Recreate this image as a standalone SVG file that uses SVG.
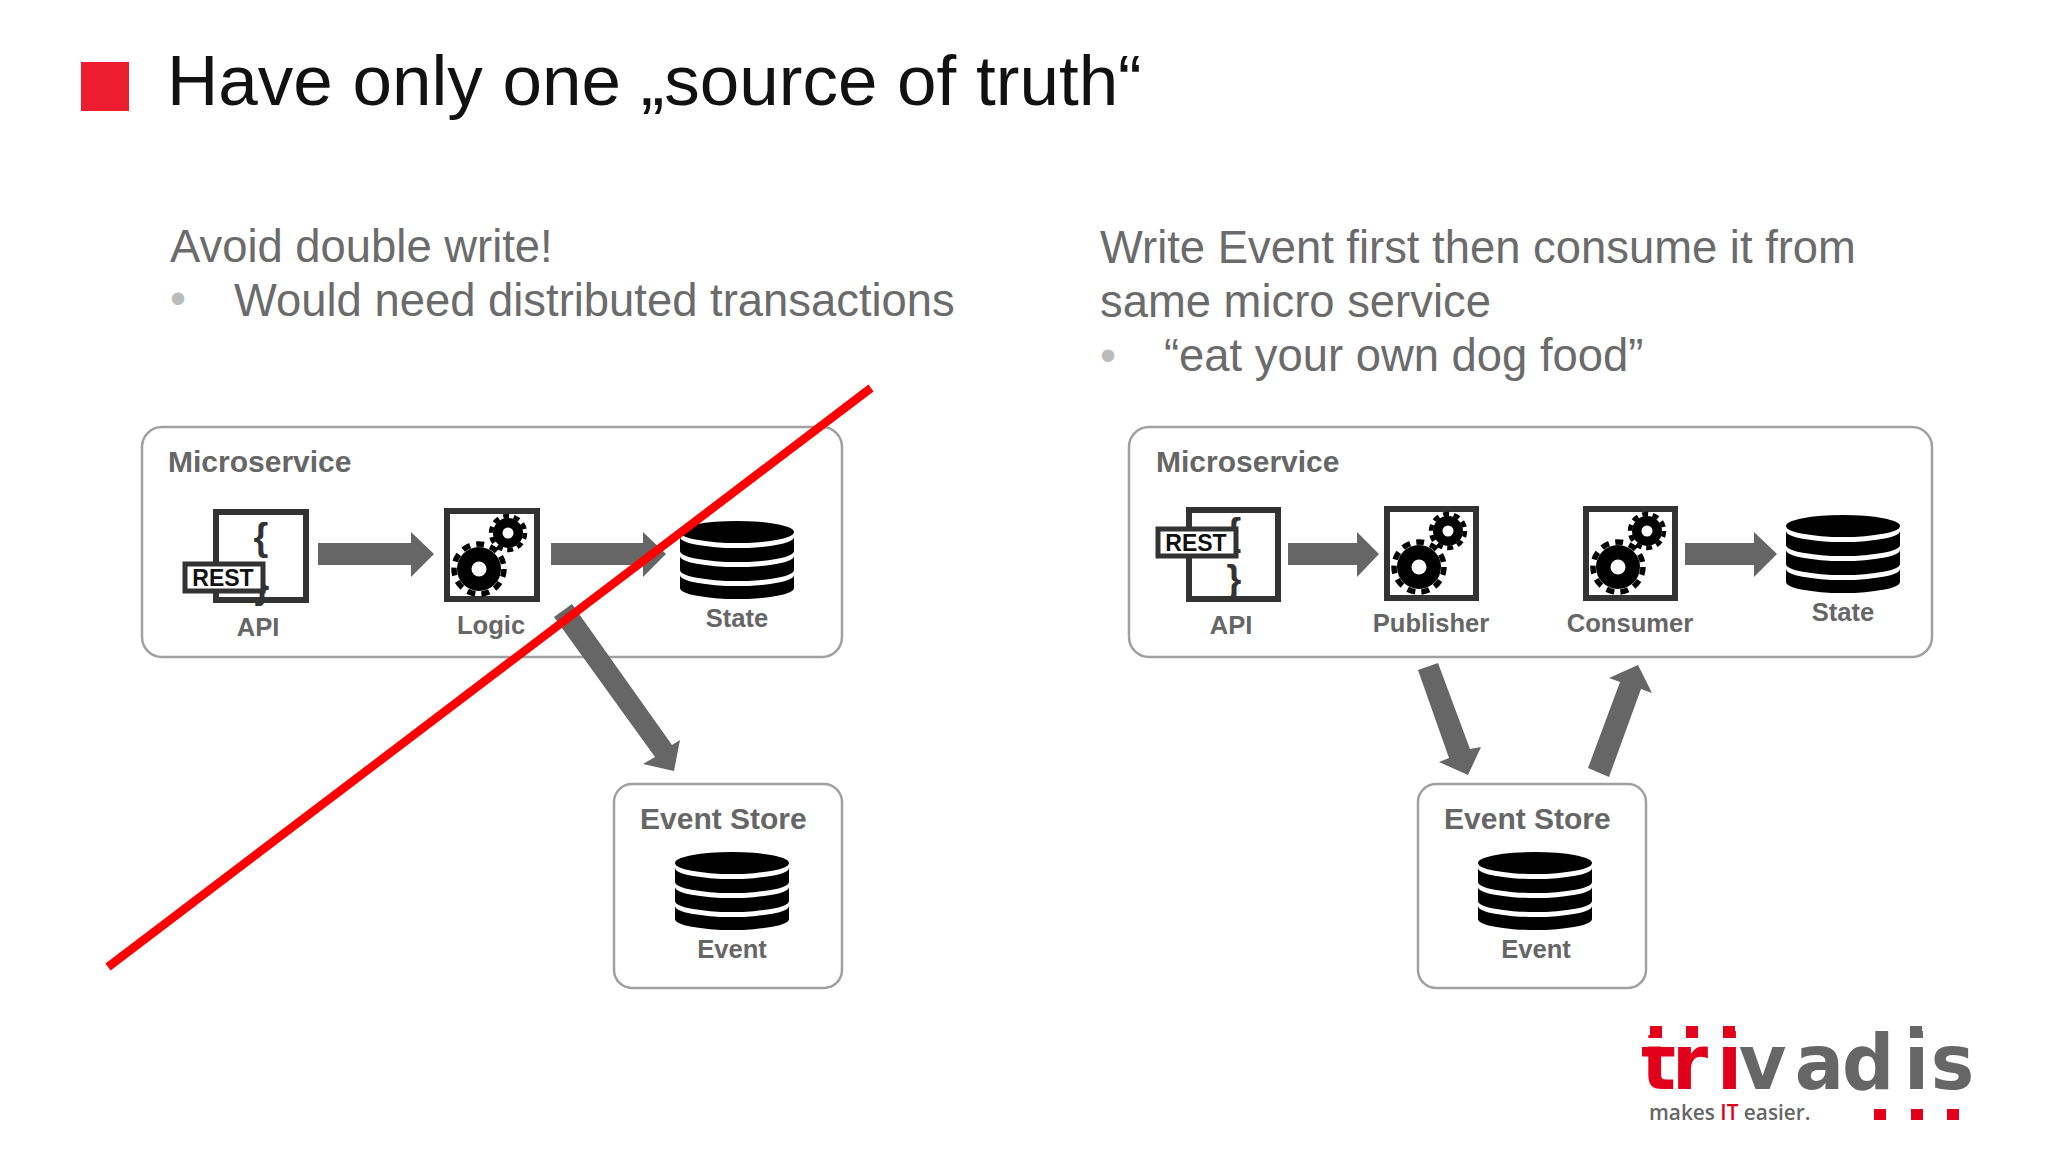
<svg xmlns="http://www.w3.org/2000/svg" width="2048" height="1152" viewBox="0 0 2048 1152">
<style>
text{font-family:"Liberation Sans",Arial,sans-serif}
.h{font-size:45.4px;fill:#6b6b6b}
.t{font-size:30px;font-weight:bold;fill:#666}
.l{font-size:25.6px;font-weight:bold;fill:#666;text-anchor:middle}
.box{fill:#fff;stroke:#a0a0a0;stroke-width:2.5}
.fr{fill:#fff;stroke:#333;stroke-width:6}
.rb{fill:#fff;stroke:#333;stroke-width:5}
.rt{font-size:23px;font-weight:bold;fill:#111;text-anchor:middle}
.ar{fill:#666}
.br{font-size:38px;font-weight:bold;fill:#333;text-anchor:middle}
.logo{font-size:77px;font-weight:bold;font-family:"DejaVu Sans",sans-serif}
</style>
<defs>
<g id="db">
<ellipse cx="57" cy="11" rx="57" ry="11" fill="#000"/>
<path d="M0 16A57 11 0 0 0 114 16V30A57 11 0 0 1 0 30Z" fill="#000"/>
<path d="M0 35A57 11 0 0 0 114 35V49A57 11 0 0 1 0 49Z" fill="#000"/>
<path d="M0 54A57 11 0 0 0 114 54V67A57 11 0 0 1 0 67Z" fill="#000"/>
</g>
<g id="gears">
<circle cx="35" cy="61" r="22" fill="#000"/>
<circle cx="35" cy="61" r="25" fill="none" stroke="#000" stroke-width="5.500" stroke-dasharray="8 6.280"/>
<circle cx="35" cy="61" r="7.500" fill="#fff"/>
<circle cx="64" cy="25" r="15" fill="#000"/>
<circle cx="64" cy="25" r="17" fill="none" stroke="#000" stroke-width="4.500" stroke-dasharray="6 4.680"/>
<circle cx="64" cy="25" r="5.500" fill="#fff"/>
</g>
</defs>
<rect width="2048" height="1152" fill="#fff"/>
<rect x="81" y="62" width="48" height="49" fill="#ed1c2e"/>
<text x="167" y="105" font-size="71" fill="#111">Have only one „source of truth“</text>
<text class="h" x="170" y="262">Avoid double write!</text>
<text x="170" y="314" font-size="46" fill="#bbb">•</text>
<text class="h" x="234" y="316">Would need distributed transactions</text>
<text class="h" x="1100" y="263">Write Event first then consume it from</text>
<text class="h" x="1100" y="317">same micro service</text>
<text x="1100" y="371" font-size="46" fill="#bbb">•</text>
<text class="h" x="1164" y="371">“eat your own dog food”</text>

<g id="microservice-left">
<rect class="box" x="142" y="427" width="700" height="230" rx="20"/>
<text class="t" x="168" y="472">Microservice</text>
</g>
<g id="api-left">
<rect class="fr" x="216" y="512" width="90" height="88"/>
<text class="br" x="261" y="550">{</text>
<text class="br" x="262" y="598">}</text>
<rect class="rb" x="185" y="564" width="78" height="27"/>
<text class="rt" x="223" y="586">REST</text>
<text class="l" x="258" y="636">API</text>
</g>
<g id="logic-left">
<rect class="fr" x="447" y="511" width="90" height="88"/>
<use href="#gears" x="444" y="508"/>
<text class="l" x="491" y="634">Logic</text>
</g>
<g id="state-left">
<use href="#db" x="680" y="521"/>
<text class="l" x="737" y="627">State</text>
</g>
<g id="eventstore-left">
<rect class="box" x="614" y="784" width="228" height="204" rx="18"/>
<text class="t" x="640" y="829">Event Store</text>
<use href="#db" x="675" y="852"/>
<text class="l" x="732" y="958">Event</text>
</g>

<g id="microservice-right">
<rect class="box" x="1129" y="427" width="803" height="230" rx="20"/>
<text class="t" x="1156" y="472">Microservice</text>
</g>
<g id="api-right">
<rect class="fr" x="1189" y="510" width="89" height="89"/>
<text class="br" x="1234" y="545">{</text>
<text class="br" x="1234" y="592">}</text>
<rect class="rb" x="1158" y="529" width="78" height="27"/>
<text class="rt" x="1196" y="551">REST</text>
<text class="l" x="1231" y="634">API</text>
</g>
<g id="publisher">
<rect class="fr" x="1387" y="509" width="89" height="89"/>
<use href="#gears" x="1384" y="506"/>
<text class="l" x="1431" y="632">Publisher</text>
</g>
<g id="consumer">
<rect class="fr" x="1586" y="509" width="89" height="89"/>
<use href="#gears" x="1583" y="506"/>
<text class="l" x="1630" y="632">Consumer</text>
</g>
<g id="state-right">
<use href="#db" x="1786" y="515"/>
<text class="l" x="1843" y="621">State</text>
</g>
<g id="eventstore-right">
<rect class="box" x="1418" y="784" width="228" height="204" rx="18"/>
<text class="t" x="1444" y="829">Event Store</text>
<use href="#db" x="1478" y="852"/>
<text class="l" x="1536" y="958">Event</text>
</g>

<g id="connectors">
<polygon class="ar" points="318,543 411,543 411,532 434,554 411,577 411,565 318,565"/>
<polygon class="ar" points="551,543 643,543 643,532 666,554 643,577 643,565 551,565"/>
<polygon class="ar" points="1288,543 1357,543 1357,532 1379,554 1357,577 1357,565 1288,565"/>
<polygon class="ar" points="1685,543 1754,543 1754,532 1777,554 1754,577 1754,565 1685,565"/>
<polygon class="ar" points="554,617 572,604 672,745 680,740 674,771 643,764 655,757"/>
<polygon class="ar" points="1418,670 1438,663 1470,749 1481,747 1468,775 1439,762 1449,758"/>
<polygon class="ar" points="1588,768 1609,777 1641,689 1652,693 1638,665 1609,678 1620,682"/>
</g>
<line id="strike" x1="108" y1="967" x2="871" y2="388" stroke="#f00" stroke-width="8.500"/>

<g id="logo">
<g transform="translate(1640 1089) scale(.95 1)">
<text class="logo" x="1 33.700 81" y="0" fill="#e2001a">tri</text>
<text class="logo" x="104 163 212.600 278 306" y="0" fill="#666">vadis</text>
</g>
<rect x="1646" y="1038" width="90" height="8.500" fill="#fff"/>
<rect x="1905" y="1038" width="22" height="8.500" fill="#fff"/>
<rect x="1650" y="1026" width="12" height="12" fill="#e2001a"/>
<rect x="1686" y="1026" width="12" height="12" fill="#e2001a"/>
<rect x="1723" y="1026" width="12" height="12" fill="#e2001a"/>
<rect x="1910" y="1026" width="12" height="12" fill="#666"/>
<text x="1649" y="1120" font-size="20.800" font-weight="600" fill="#666" style="font-family:'Open Sans',sans-serif">makes <tspan fill="#e2001a">IT</tspan> easier.</text>
<rect x="1874" y="1109" width="12" height="11" fill="#e2001a"/>
<rect x="1911" y="1109" width="12" height="11" fill="#e2001a"/>
<rect x="1947" y="1109" width="12" height="11" fill="#e2001a"/>
</g>
</svg>
